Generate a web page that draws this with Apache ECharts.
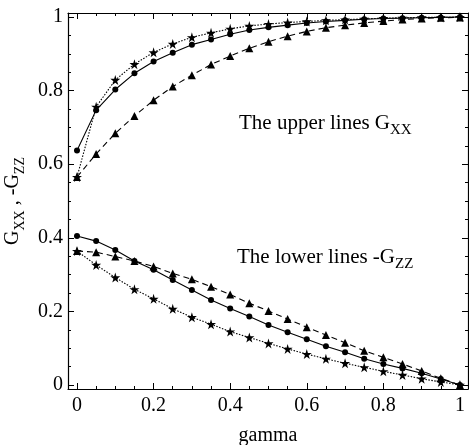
<!DOCTYPE html>
<html><head><meta charset="utf-8">
<script src="https://cdn.jsdelivr.net/npm/echarts@6/dist/echarts.min.js"></script>
<style>html,body{margin:0;padding:0;background:#fff}#c{width:469px;height:445px}</style>
</head><body><div id="c"></div>
<script>
const gamma = [0,0.05,0.1,0.15,0.2,0.25,0.3,0.35,0.4,0.45,0.5,0.55,0.6,0.65,0.7,0.75,0.8,0.85,0.9,0.95,1];
const upperCircle   = [0.637,0.747,0.803,0.847,0.879,0.903,0.925,0.939,0.953,0.965,0.972,0.978,0.984,0.988,0.991,0.994,0.996,0.997,0.998,0.999,1.0];
const upperTriangle = [0.565,0.628,0.684,0.731,0.774,0.811,0.842,0.871,0.894,0.915,0.933,0.948,0.961,0.971,0.978,0.984,0.989,0.993,0.996,0.998,0.999];
const upperStar     = [0.565,0.756,0.829,0.872,0.904,0.927,0.945,0.957,0.968,0.976,0.981,0.985,0.988,0.991,0.993,0.995,0.997,0.998,0.999,0.999,1.0];
const lowerCircle   = [0.405,0.391,0.367,0.337,0.313,0.285,0.258,0.231,0.208,0.186,0.163,0.143,0.124,0.105,0.089,0.071,0.057,0.045,0.032,0.016,0.0];
const lowerTriangle = [0.364,0.361,0.349,0.337,0.322,0.303,0.287,0.267,0.246,0.222,0.201,0.179,0.157,0.136,0.115,0.093,0.075,0.057,0.038,0.018,0.0];
const lowerStar     = [0.364,0.326,0.292,0.260,0.234,0.207,0.184,0.165,0.145,0.129,0.113,0.098,0.084,0.071,0.059,0.048,0.037,0.027,0.017,0.008,0.0];
const majorTicks = [0,0.2,0.4,0.6,0.8,1];
const minorTicks = [0.05,0.1,0.15,0.25,0.3,0.35,0.45,0.5,0.55,0.65,0.7,0.75,0.85,0.9,0.95];

const XMIN = -0.0235, XMAX = 1.021, YMIN = -0.011, YMAX = 1.011;
const FONT = '"Liberation Serif","DejaVu Serif",serif';
const STAR = 'path://M50,0 L61,35 L98,35 L68,57 L79,91 L50,70 L21,91 L32,57 L2,35 L39,35 Z';
const pairs = ys => gamma.map((g, i) => [g, ys[i]]);

function axis(dim, pos, ticks, len, labels, lineShow) {
  return {
    type: 'value', position: pos,
    min: dim === 'x' ? XMIN : YMIN, max: dim === 'x' ? XMAX : YMAX,
    splitLine: { show: false },
    axisLine: { show: lineShow, onZero: false, lineStyle: { color: '#000', width: 1.2 } },
    axisTick: { show: true, inside: true, length: len, customValues: ticks, lineStyle: { color: '#000', width: 1 } },
    axisLabel: labels ? { show: true, customValues: ticks, color: '#000', fontFamily: FONT, fontSize: 20, margin: 7 } : { show: false }
  };
}
function richOf(size, subSize, drop) {
  return {
    m: { fontFamily: FONT, fontSize: size, color: '#000', verticalAlign: 'top', padding: [0, 0, 0, 0] },
    s: { fontFamily: FONT, fontSize: subSize, color: '#000', verticalAlign: 'top', padding: [drop, 0, 0, 0] }
  };
}
const xAxes = [axis('x','bottom',majorTicks,6,true,true), axis('x','top',majorTicks,6,false,true),
               axis('x','bottom',minorTicks,3,false,false), axis('x','top',minorTicks,3,false,false)];
xAxes[0].name = 'gamma'; xAxes[0].nameLocation = 'middle'; xAxes[0].nameGap = 37;
xAxes[0].nameTextStyle = { color: '#000', fontFamily: FONT, fontSize: 20 };
const yAxes = [axis('y','left',majorTicks,6,true,true), axis('y','right',majorTicks,6,false,true),
               axis('y','left',minorTicks,3,false,false), axis('y','right',minorTicks,3,false,false)];
yAxes[0].axisLabel.margin = 5;
yAxes[0].name = '{m|G}{s|XX}{m| , -G}{s|ZZ}';
yAxes[0].nameLocation = 'middle'; yAxes[0].nameGap = 38; yAxes[0].nameRotate = 90;
yAxes[0].nameTextStyle = { color: '#000', fontFamily: FONT, rich: richOf(20, 14, 10) };

function ser(name, ys, symbol, size, dash) {
  return { name, type: 'line', data: pairs(ys), symbol, symbolSize: size, showSymbol: true,
    lineStyle: { color: '#000', width: 1.1, type: dash }, itemStyle: { color: '#000' }, animation: false };
}
const chart = echarts.init(document.getElementById('c'));
chart.setOption({
  backgroundColor: '#fff', animation: false,
  grid: { left: 68, right: 1, top: 13, bottom: 56, containLabel: false, outerBoundsMode: 'none' },
  title: [
    { text: '{m|The upper lines G}{s|XX}', left: 239, top: 113, padding: 0, textStyle: { fontWeight: 'normal', rich: richOf(21, 15, 10) } },
    { text: '{m|The lower lines -G}{s|ZZ}', left: 237, top: 247, padding: 0, textStyle: { fontWeight: 'normal', rich: richOf(21, 15, 10) } }
  ],
  xAxis: xAxes, yAxis: yAxes,
  series: [
    ser('upper circle', upperCircle, 'circle', 6, 'solid'),
    ser('upper triangle', upperTriangle, 'triangle', 8, [6,4]),
    ser('upper star', upperStar, STAR, 10, [1.5,1.5]),
    ser('lower circle', lowerCircle, 'circle', 6, 'solid'),
    ser('lower triangle', lowerTriangle, 'triangle', 8, [6,4]),
    ser('lower star', lowerStar, STAR, 10, [1.5,1.5])
  ]
});
</script></body></html>
